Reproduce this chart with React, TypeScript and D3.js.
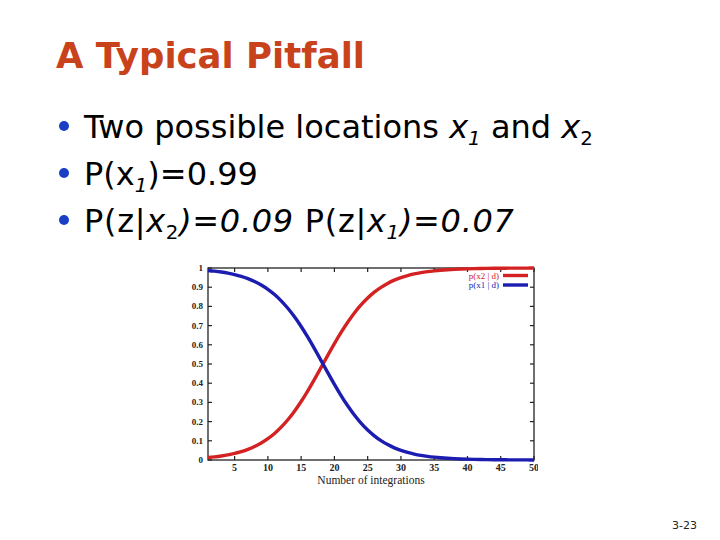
import React from "react";
import * as d3 from "d3";

const integrations: number[] = [1,2,3,4,5,6,7,8,9,10,11,12,13,14,15,16,17,18,19,20,21,22,23,24,25,26,27,28,29,30,31,32,33,34,35,36,37,38,39,40,41,42,43,44,45,46,47,48,49,50];
const pX2: number[] = [0.0128,0.0164,0.0210,0.0269,0.0343,0.0436,0.0554,0.0701,0.0884,0.1109,0.1381,0.1709,0.2095,0.2541,0.3046,0.3603,0.4200,0.4821,0.5448,0.6061,0.6643,0.7178,0.7659,0.8079,0.8439,0.8742,0.8994,0.9199,0.9366,0.9500,0.9607,0.9691,0.9758,0.9811,0.9852,0.9885,0.9910,0.9930,0.9945,0.9957,0.9967,0.9974,0.9980,0.9984,0.9988,0.9991,0.9993,0.9994,0.9996,0.9997];
const pX1: number[] = [0.9872,0.9836,0.9790,0.9731,0.9657,0.9564,0.9446,0.9299,0.9116,0.8891,0.8619,0.8291,0.7905,0.7459,0.6954,0.6397,0.5800,0.5179,0.4552,0.3939,0.3357,0.2822,0.2341,0.1921,0.1561,0.1258,0.1006,0.0801,0.0634,0.0500,0.0393,0.0309,0.0242,0.0189,0.0148,0.0115,0.0090,0.0070,0.0055,0.0043,0.0033,0.0026,0.0020,0.0016,0.0012,0.0009,0.0007,0.0006,0.0004,0.0003];
const xTicks: number[] = [5,10,15,20,25,30,35,40,45,50];
const yTicks: number[] = [0,0.1,0.2,0.3,0.4,0.5,0.6,0.7,0.8,0.9,1];
const seriesNames: string[] = ["p(x2 | d)", "p(x1 | d)"];
const seriesColors: string[] = ["#d42222", "#1c1cb0"];

const LEFT = 208, RIGHT = 534, TOP = 268, BOTTOM = 460;

export default function App() {
  const x = d3.scaleLinear().domain([1, 50]).range([LEFT, RIGHT]);
  const y = d3.scaleLinear().domain([0, 1]).range([BOTTOM, TOP]);
  const line = d3
    .line<number>()
    .x((_, i) => x(integrations[i]))
    .y((d) => y(d))
    .curve(d3.curveMonotoneX);
  const series = [pX2, pX1];
  const serif = "'Liberation Serif', 'DejaVu Serif', serif";
  const sans = "'DejaVu Sans', Verdana, sans-serif";
  const bulletSize = 32;
  const sub = { fontSize: bulletSize * 0.62 };
  return (
    <svg width={720} height={540} style={{ position: "absolute", left: 0, top: 0, background: "#fff" }}>
      <rect x={0} y={0} width={720} height={540} fill="#fff" />
      <text x={56} y={68} fontFamily={sans} fontWeight="bold" fontSize={35.5} fill="#c8421b">
        A Typical Pitfall
      </text>

      {[126, 173, 220].map((cy, i) => (
        <circle key={i} cx={64} cy={cy} r={5} fill="#1a3fc4" />
      ))}
      <text x={84} y={138} fontFamily={sans} fontSize={bulletSize} fill="#000">
        <tspan>Two possible locations </tspan>
        <tspan fontStyle="italic">x</tspan>
        <tspan fontStyle="italic" dy={7} style={sub}>1</tspan>
        <tspan dy={-7}> and </tspan>
        <tspan fontStyle="italic">x</tspan>
        <tspan dy={7} style={sub}>2</tspan>
      </text>
      <text x={84} y={185} fontFamily={sans} fontSize={bulletSize} fill="#000">
        <tspan>P(x</tspan>
        <tspan fontStyle="italic" dy={7} style={sub}>1</tspan>
        <tspan dy={-7}>)=0.99</tspan>
      </text>
      <text x={84} y={232} fontFamily={sans} fontSize={bulletSize} fill="#000" letterSpacing={0.7}>
        <tspan>P(z|</tspan>
        <tspan fontStyle="italic">x</tspan>
        <tspan dy={7} style={sub}>2</tspan>
        <tspan dy={-7} fontStyle="italic">)=0.09</tspan>
        <tspan> P(z|</tspan>
        <tspan fontStyle="italic">x</tspan>
        <tspan fontStyle="italic" dy={7} style={sub}>1</tspan>
        <tspan dy={-7} fontStyle="italic">)=0.07</tspan>
      </text>

      <defs>
        <clipPath id="chartClip">
          <rect x={170} y={255} width={368} height={240} />
        </clipPath>
      </defs>
      <g clipPath="url(#chartClip)">
        <rect x={LEFT} y={TOP} width={RIGHT - LEFT} height={BOTTOM - TOP} fill="none" stroke="#222" strokeWidth={1.3} />
        {xTicks.map((t) => (
          <g key={"x" + t}>
            <line x1={x(t)} x2={x(t)} y1={BOTTOM} y2={BOTTOM - 4} stroke="#222" strokeWidth={1.2} />
            <line x1={x(t)} x2={x(t)} y1={TOP} y2={TOP + 4} stroke="#222" strokeWidth={1.2} />
            <text x={x(t)} y={471} textAnchor="middle" fontFamily={serif} fontSize={10} fontWeight="bold" fill="#222">
              {t}
            </text>
          </g>
        ))}
        {yTicks.map((t) => (
          <g key={"y" + t}>
            <line x1={LEFT} x2={LEFT + 4} y1={y(t)} y2={y(t)} stroke="#222" strokeWidth={1.2} />
            <line x1={RIGHT} x2={RIGHT - 4} y1={y(t)} y2={y(t)} stroke="#222" strokeWidth={1.2} />
            <text x={203} y={y(t) + 3} textAnchor="end" fontFamily={serif} fontSize={9} fontWeight="bold" fill="#222">
              {String(t)}
            </text>
          </g>
        ))}
        <text x={(LEFT + RIGHT) / 2} y={484} textAnchor="middle" fontFamily={serif} fontSize={11.5} fill="#222">
          Number of integrations
        </text>
        {series.map((s, i) => (
          <path key={i} d={line(s) ?? ""} fill="none" stroke={seriesColors[i]} strokeWidth={3.4} />
        ))}
        {seriesNames.map((n, i) => (
          <g key={n}>
            <text x={499} y={278.5 + i * 9.5} textAnchor="end" fontFamily={serif} fontSize={9} fill={seriesColors[i]}>
              {n}
            </text>
            <line x1={503} x2={528} y1={275.5 + i * 9.5} y2={275.5 + i * 9.5} stroke={seriesColors[i]} strokeWidth={3.4} />
          </g>
        ))}
      </g>

      <text x={672} y={529} fontFamily={sans} fontSize={11} fill="#222">
        3-23
      </text>
    </svg>
  );
}
